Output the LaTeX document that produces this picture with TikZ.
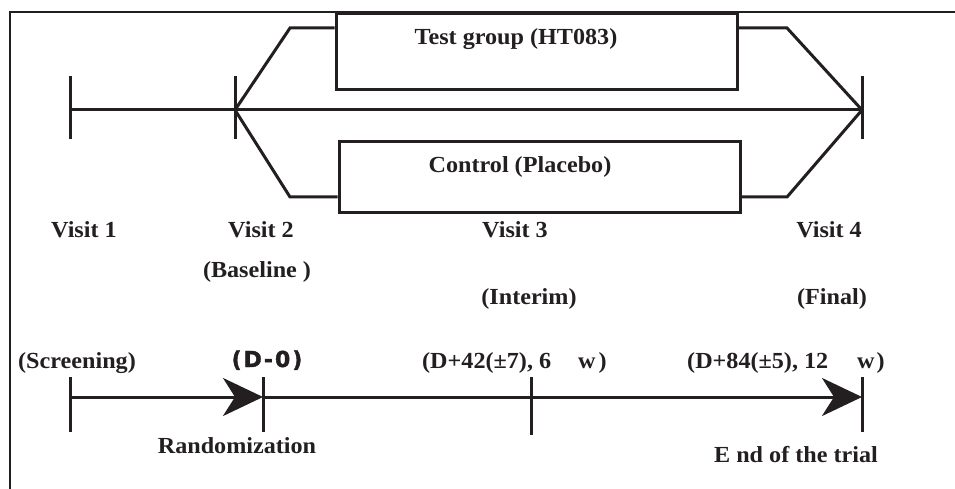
\documentclass[tikz,border=0pt]{standalone}
\usepackage{fontspec}
\setmainfont{Liberation Serif}[FakeStretch=1.05]
\newfontfamily\daysans{DejaVu Sans}[BoldFont={DejaVu Sans Bold}, BoldFeatures={FakeBold=1.5}]
\usetikzlibrary{arrows.meta}
\definecolor{ink}{HTML}{231F20}

\begin{document}
\begin{tikzpicture}[x=1pt,y=-1pt,
  stroke/.style={draw=ink, line width=3pt, line join=miter},
  tickmark/.style={draw=ink, line width=3pt},
  armbox/.style={draw=ink, line width=3pt, rectangle, inner sep=0pt},
  lbl/.style={font=\fontsize{23}{27}\selectfont\bfseries, text=ink, inner sep=0pt, anchor=base},
  daylbl/.style={font=\daysans\fontsize{22}{26}\selectfont\bfseries, text=ink, inner sep=0pt, anchor=base},
  bigtip/.style={-{Stealth[length=40pt,width=38pt,inset=12pt]}}
]
\useasboundingbox (0,0) rectangle (955,489);
\fill[white] (0,0) rectangle (955,489);

% frame
\draw[ink, line width=1.6pt] (10,489) -- (10,12) -- (955,12);

% ---------- treatment arms ----------
\coordinate (v1) at (70,110);
\coordinate (v2) at (235,110);
\coordinate (v4) at (862,110);

\node[armbox, minimum width=401pt, minimum height=76pt] (test) at (536.5,52) {};
\node[armbox, minimum width=401pt, minimum height=70pt] (ctrl) at (539.5,177) {};

\coordinate (tl) at (290,28);
\coordinate (tr) at (787,28);
\coordinate (bl) at (290,197);
\coordinate (br) at (787,197);

\draw[stroke] (v1) -- (v4);
\draw[stroke] (v2) -- (tl) -- (tl -| test.west);
\draw[stroke] (tl -| test.east) -- (tr) -- (v4);
\draw[stroke] (v2) -- (bl) -- (bl -| ctrl.west);
\draw[stroke] (bl -| ctrl.east) -- (br) -- (v4);

\draw[tickmark] (70,76) -- (70,139);
\draw[tickmark] (235,76) -- (235,139);
\draw[tickmark] (862,76) -- (862,139);

\node[lbl] (testlbl) at (516,45) {Test group (HT083)};
\node[lbl] (ctrllbl) at (520,173) {Control (Placebo)};

% visit labels
\node[lbl] (visit1) at (84,237) {Visit 1};
\node[lbl] (visit2) at (261,237) {Visit 2};
\node[lbl] (visit3) at (515,237) {Visit 3};
\node[lbl] (visit4) at (829,237) {Visit 4};
\node[lbl] (base) at (257,277) {(Baseline )};
\node[lbl] (interim) at (529,304) {(Interim)};
\node[lbl] (final) at (832,304) {(Final)};

% ---------- time line ----------
\coordinate (s) at (70,397);
\coordinate (r) at (263,397);
\coordinate (i) at (531,397);
\coordinate (e) at (862,397);

\draw[stroke, bigtip] (s) -- (r);
\draw[stroke] (r) -- (i);
\draw[stroke, bigtip] (i) -- (e);

\draw[tickmark] (70,377) -- (70,432);
\draw[tickmark] (263,377) -- (263,432);
\draw[tickmark] (531,377) -- (531,435);
\draw[tickmark] (862,377) -- (862,432);

\node[lbl] (screen) at (77,368) {(Screening)};
\node[daylbl] (d0) at (267,367) {(\kern2pt D\kern2pt-\kern2pt0\kern2pt)};
\node[lbl, anchor=base west] (d42) at (422,368) {(D+42(±7), 6\hspace{27pt}w\hspace{3pt})};
\node[lbl, anchor=base west] (d84) at (687,368) {(D+84(±5), 12\hspace{29pt}w\hspace{2pt})};
\node[lbl] (rand) at (237,453) {Randomization};
\node[lbl] (end) at (796,462) {E nd of the trial};
\end{tikzpicture}
\end{document}
